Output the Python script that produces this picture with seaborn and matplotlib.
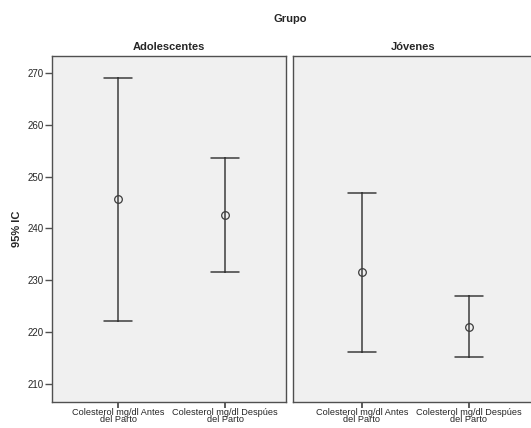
import numpy as np
import pandas as pd
import matplotlib
matplotlib.use("Agg")
import matplotlib.pyplot as plt
import seaborn as sns

# 95% CI: lower, mean, upper
groups = ["Adolescentes", "Jóvenes"]
variables = ["Colesterol mg/dl Antes\ndel Parto", "Colesterol mg/dl Despúes\ndel Parto"]
lower = {"Adolescentes": [222.2, 231.6], "Jóvenes": [216.2, 215.1]}
mean = {"Adolescentes": [245.6, 242.6], "Jóvenes": [231.6, 221.0]}
upper = {"Adolescentes": [269.1, 253.6], "Jóvenes": [246.9, 226.9]}
yticks = [210, 220, 230, 240, 250, 260, 270]

rows = []
for g in groups:
    for i, v in enumerate(variables):
        for val in (lower[g][i], mean[g][i], upper[g][i]):
            rows.append({"grupo": g, "variable": v, "valor": val})
df = pd.DataFrame(rows)

sns.set_style("ticks")
plt.rcParams["font.family"] = ["Liberation Sans", "DejaVu Sans"]

fig = plt.figure(figsize=(5.31, 4.28), dpi=100)
W, H = 531, 428
ax_l = fig.add_axes([52 / W, 26 / H, 234 / W, 346 / H])
ax_r = fig.add_axes([293 / W, 26 / H, 240 / W, 346 / H])

line_col = "#3c3c3c"
for ax, g, xlim in [(ax_l, "Adolescentes", (-0.617, 1.57)), (ax_r, "Jóvenes", (-0.645, 1.6))]:
    sub = df[df["grupo"] == g]
    sns.pointplot(data=sub, x="variable", y="valor", order=variables,
                  estimator=np.median, errorbar=lambda v: (v.min(), v.max()),
                  linestyle="none", color=line_col, capsize=0.26,
                  markers="o", markersize=5.5, markerfacecolor="none",
                  markeredgewidth=0.9, err_kws={"linewidth": 1.1}, ax=ax)
    ax.set_facecolor("#f0f0f0")
    ax.set_xlim(*xlim)
    ax.set_ylim(206.5, 273.3)
    ax.set_xlabel("")
    ax.set_ylabel("")
    ax.set_title(g, fontsize=8, fontweight="bold", pad=4)
    for s in ax.spines.values():
        s.set_visible(True)
        s.set_color("#505050")
        s.set_linewidth(1.0)
    ax.set_xticks(range(len(variables)))
    ax.set_xticklabels(variables, linespacing=0.72)
    ax.tick_params(axis="x", bottom=True, direction="out", length=4, width=1.2,
                   color="#404040", labelsize=6.6, pad=0.5)

ax_l.set_yticks(yticks)
ax_l.tick_params(axis="y", left=True, direction="out", length=5, width=1, color="#505050",
                 labelsize=7, pad=1)
ax_r.set_yticks([])
ax_l.set_ylabel("95% IC", fontsize=8, fontweight="bold", labelpad=4)

fig.text(290 / W, 1 - 19 / H, "Grupo", ha="center", va="center", fontsize=8, fontweight="bold")

fig.savefig("out.png", dpi=100)
